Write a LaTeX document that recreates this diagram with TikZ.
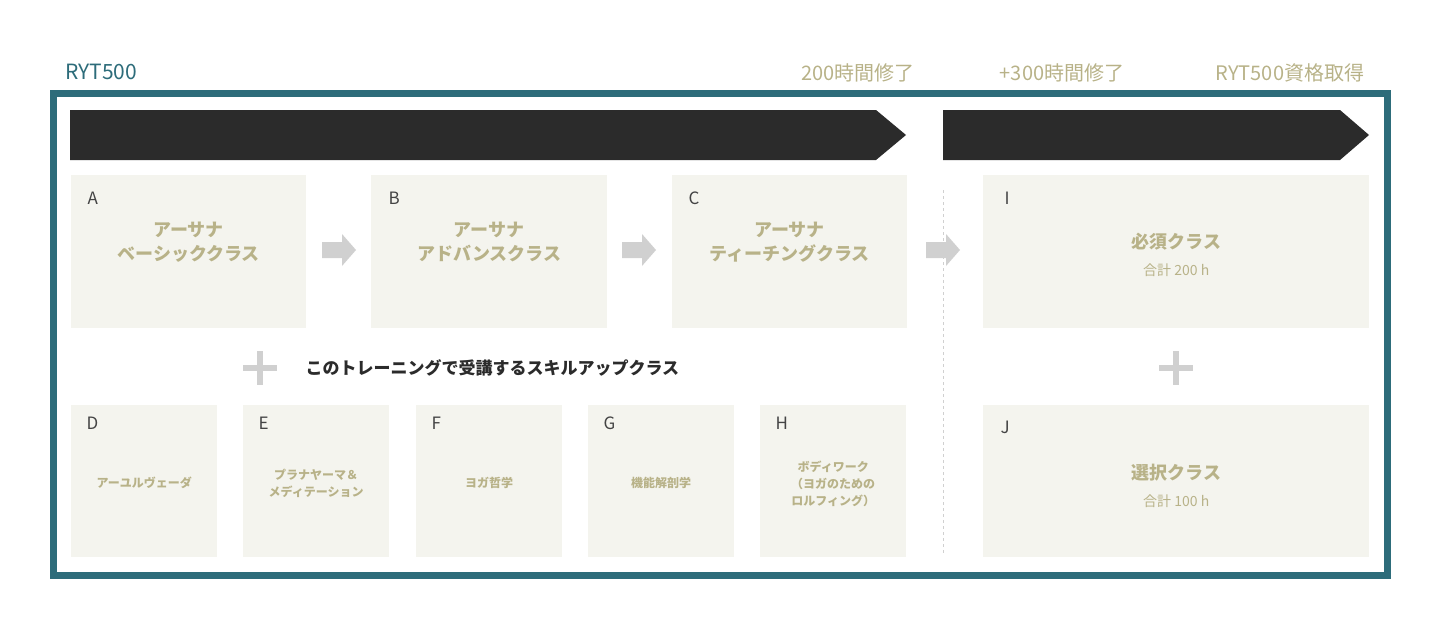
\documentclass[tikz,border=0pt]{standalone}
\usepackage{fontspec}
\setmainfont{Noto Sans CJK JP}
\usetikzlibrary{calc,positioning}
\definecolor{frameteal}{RGB}{45,108,122}
\definecolor{olive}{RGB}{184,178,136}
\definecolor{boxfill}{RGB}{244,244,238}
\definecolor{banner}{RGB}{43,43,43}
\definecolor{grayarrow}{RGB}{208,208,208}
\definecolor{letter}{RGB}{68,68,68}
\tikzset{
  classbox/.style={fill=boxfill,anchor=north west,inner sep=0pt},
  boxtitle/.style={text=olive,font=\fontsize{18}{24}\selectfont\bfseries,align=center},
  smalltitle/.style={text=olive,font=\fontsize{12}{17}\selectfont\bfseries,align=center},
  letterlab/.style={text=letter,font=\fontsize{17}{20}\selectfont,anchor=west},
  toplab/.style={text=olive,font=\fontsize{20}{24}\selectfont},
}
\newcommand{\grayarr}[1]{\fill[grayarrow] ($(#1)+(-17,-8)$) -- ++(20,0) -- ++(0,-8) -- ++(14,16) -- ++(-14,16) -- ++(0,-8) -- ++(-20,0) -- cycle;}
\newcommand{\plussign}[1]{\fill[grayarrow] ($(#1)+(-17,-3)$) rectangle ++(34,6); \fill[grayarrow] ($(#1)+(-3,-17)$) rectangle ++(6,34);}
\begin{document}
\begin{tikzpicture}[x=1pt,y=-1pt]
\useasboundingbox (0,0) rectangle (1440,632);
%frame
\draw[frameteal,line width=7pt] (53,93) rectangle (1387,575);
\node[text=frameteal,font=\fontsize{21}{24}\selectfont,anchor=west] (title) at (62,72) {RYT500};
\node[toplab] (lab200) at (858,73) {200時間修了};
\node[toplab] (lab300) at (1062,73) {+300時間修了};
\node[toplab] (labryt) at (1290,73) {RYT500資格取得};
%banners
\fill[banner] (70,110) -- (876,110) -- (906,135) -- (876,160) -- (70,160) -- cycle;
\fill[banner] (943,110) -- (1340,110) -- (1369,135) -- (1340,160) -- (943,160) -- cycle;
%top row
\node[classbox,minimum width=235,minimum height=153] (A) at (71,175) {};
\node[classbox,minimum width=236,minimum height=153] (B) at (371,175) {};
\node[classbox,minimum width=235,minimum height=153] (C) at (672,175) {};
\node[classbox,minimum width=386,minimum height=153] (I) at (983,175) {};
\foreach \n/\x in {A/84,B/385,C/685,I/1001}
  \node[letterlab] at (\x,198) {\n};
\node[boxtitle] at ($(A.center)+(0,-10)$) {アーサナ\\ベーシッククラス};
\node[boxtitle] at ($(B.center)+(0,-10)$) {アーサナ\\アドバンスクラス};
\node[boxtitle] at ($(C.center)+(0,-10)$) {アーサナ\\ティーチングクラス};
\node[boxtitle] at ($(I.center)+(0,-10)$) {必須クラス};
\node[text=olive,font=\fontsize{14}{17}\selectfont] at ($(I.center)+(0,18)$) {合計 200 h};
\grayarr{339,250}
\grayarr{639,250}
\grayarr{943,250}
\draw[grayarrow,dashed] (943,190) -- (943,555);
%skill-up row
\plussign{260,368}
\plussign{1176,368}
\node[text=banner,font=\fontsize{17}{20}\selectfont\bfseries,anchor=west] (skill) at (302,368) {このトレーニングで受講するスキルアップクラス};
\foreach \n/\x in {D/71,E/243,F/416,G/588,H/760}{
  \node[classbox,minimum width=146,minimum height=152] (\n) at (\x,405) {};
  \node[letterlab] at (\x+12,423) {\n};
}
\node[classbox,minimum width=386,minimum height=152] (J) at (983,405) {};
\node[letterlab] at (997,427) {J};
\node[smalltitle] at ($(D.center)+(0,2)$) {アーユルヴェーダ};
\node[smalltitle] at ($(E.center)+(0,2)$) {プラナヤーマ＆\\メディテーション};
\node[smalltitle] at ($(F.center)+(0,2)$) {ヨガ哲学};
\node[smalltitle] at ($(G.center)+(0,2)$) {機能解剖学};
\node[smalltitle] at ($(H.center)+(0,3)$) {ボディワーク\\（ヨガのための\\ ロルフィング）};
\node[boxtitle] at ($(J.center)+(0,-9)$) {選択クラス};
\node[text=olive,font=\fontsize{14}{17}\selectfont] at ($(J.center)+(0,20)$) {合計 100 h};
\end{tikzpicture}
\end{document}
